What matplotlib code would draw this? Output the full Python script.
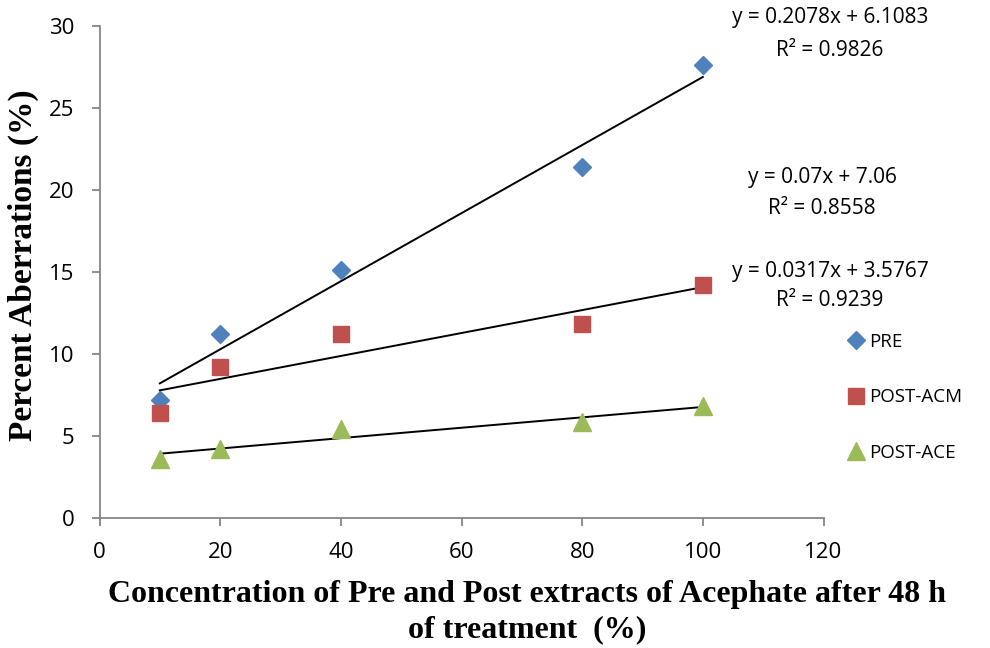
import matplotlib
matplotlib.use("Agg")
import matplotlib.pyplot as plt
import numpy as np

# Concentration (%) and percent aberrations for each extract
concentration = [10, 20, 40, 80, 100]
pre = [7.2, 11.2, 15.1, 21.4, 27.6]
post_acm = [6.4, 9.2, 11.2, 11.8, 14.2]
post_ace = [3.6, 4.2, 5.4, 5.8, 6.8]

series_names = ["PRE", "POST-ACM", "POST-ACE"]

# Linear trendline coefficients (slope, intercept) and R² values
slopes = [0.2078, 0.07, 0.0317]
intercepts = [6.1083, 7.06, 3.5767]
r_squared = [0.9826, 0.8558, 0.9239]
equation_labels = ["y = 0.2078x + 6.1083", "y = 0.07x + 7.06", "y = 0.0317x + 3.5767"]
r2_labels = ["R² = 0.9826", "R² = 0.8558", "R² = 0.9239"]

x_ticks = [0, 20, 40, 60, 80, 100, 120]
y_ticks = [0, 5, 10, 15, 20, 25, 30]

colors = ["#4F81BD", "#C0504D", "#9BBB59"]
markers = ["D", "s", "^"]
sizes = [9, 12, 13]

W, H = 990, 648
fig = plt.figure(figsize=(W / 100, H / 100), dpi=100)
ax_left, ax_right, ax_top, ax_bottom = 99.5, 823.5, 26, 517.5
ax = fig.add_axes([ax_left / W, 1 - ax_bottom / H,
                   (ax_right - ax_left) / W, (ax_bottom - ax_top) / H])

tick_font = "Open Sans"
label_font = "Liberation Serif"

values = [pre, post_acm, post_ace]
for vals, name, c, m, s in zip(values, series_names, colors, markers, sizes):
    ax.plot(concentration, vals, linestyle="none", marker=m, markersize=s,
            color=c, markeredgecolor=c, label=name, zorder=3)

# Trendlines drawn across the measured concentration range
xs = np.array([min(concentration), max(concentration)])
for a, b in zip(slopes, intercepts):
    ax.plot(xs, a * xs + b, color="black", linewidth=1.4, zorder=2)

ax.set_xlim(0, 120)
ax.set_ylim(0, 30)
ax.set_xticks(x_ticks)
ax.set_yticks(y_ticks)
for lab in ax.get_xticklabels() + ax.get_yticklabels():
    lab.set_fontfamily(tick_font)
    lab.set_fontsize(16)

for side in ["top", "right"]:
    ax.spines[side].set_visible(False)
for side in ["left", "bottom"]:
    ax.spines[side].set_color("#868686")
    ax.spines[side].set_linewidth(1.3)
ax.tick_params(direction="out", length=5.5, width=1.3, color="#868686", pad=12.5)

ax.set_xlabel("Concentration of Pre and Post extracts of Acephate after 48 h\nof treatment  (%)",
              fontfamily=label_font, fontweight="bold", fontsize=23,
              linespacing=1.25)
ax.xaxis.set_label_coords(527 / W, 1 - 612 / H, transform=fig.transFigure)
ax.xaxis.label.set_va("center")
ax.set_ylabel("Percent Aberrations (%)", fontfamily=label_font, fontweight="bold",
              fontsize=24)
ax.yaxis.set_label_coords(23 / W, 1 - 265 / H, transform=fig.transFigure)
ax.yaxis.label.set_va("center")

# Trendline equations, each block centred on one x position
eq_pos = [(830, 17, 50), (822, 177, 208), (830, 271, 300)]
for (cx, ey, ry), eq, r2 in zip(eq_pos, equation_labels, r2_labels):
    fig.text(cx / W, 1 - ey / H, eq, ha="center", va="center",
             fontfamily=tick_font, fontsize=15)
    fig.text(cx / W, 1 - ry / H, r2, ha="center", va="center",
             fontfamily=tick_font, fontsize=15)

leg = ax.legend(loc="upper left", bbox_to_anchor=(828 / W, 1 - 316 / H),
                bbox_transform=fig.transFigure, frameon=False,
                labelspacing=2.0, handletextpad=0.1, handlelength=1.2,
                prop={"family": tick_font, "size": 13.5})

fig.savefig("out.png", dpi=100)
